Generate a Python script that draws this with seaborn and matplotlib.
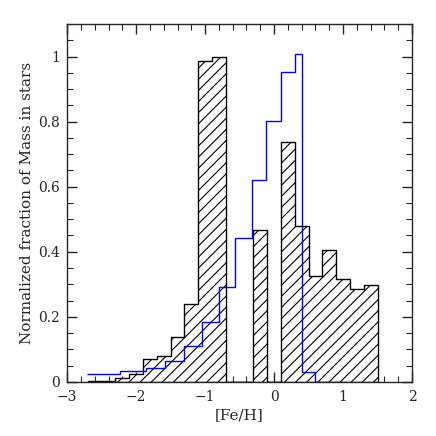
import numpy as np
import matplotlib
matplotlib.use("Agg")
import matplotlib.pyplot as plt
import seaborn as sns
from matplotlib.ticker import MultipleLocator, FuncFormatter

# black hatched histogram ([Fe/H] bins of 0.2)
obs_edges = [-2.7, -2.5, -2.3, -2.1, -1.9, -1.7, -1.5, -1.3, -1.1, -0.9, -0.7,
             -0.5, -0.3, -0.1, 0.1, 0.3, 0.5, 0.7, 0.9, 1.1, 1.3, 1.5]
obs_heights = [0.002, 0.004, 0.011, 0.025, 0.07, 0.08, 0.138, 0.241, 0.986, 1.0,
               0.0, 0.0, 0.468, 0.0, 0.736, 0.48, 0.327, 0.404, 0.317, 0.285, 0.298]

# blue model distribution (step line)
mod_edges = [-2.71, -2.23, -1.855, -1.575, -1.31, -1.043, -0.80, -0.565,
             -0.323, -0.116, 0.097, 0.304, 0.41, 0.594, 1.05]
mod_heights = [0.024, 0.034, 0.044, 0.063, 0.11, 0.183, 0.293, 0.443,
               0.62, 0.803, 0.951, 1.009, 0.032, 0.0]

sns.set_style("ticks")
plt.rcParams["font.family"] = ["DejaVu Serif"]
plt.rcParams["hatch.color"] = "black"
plt.rcParams["hatch.linewidth"] = 0.8

fig = plt.figure(figsize=(4.36, 4.36), dpi=100)
ax = fig.add_axes([0.154, 0.124, 0.791, 0.821])

centers = [(a + b) / 2 for a, b in zip(obs_edges[:-1], obs_edges[1:])]
sns.histplot(x=centers, weights=obs_heights, bins=obs_edges, element="step",
             fill=True, color="white", alpha=1, edgecolor="black", hatch="///",
             linewidth=1.0, ax=ax)

ax.stairs(mod_heights, mod_edges, color="blue", linewidth=1.0, baseline=None)

ax.set_xlim(-3, 2)
ax.set_ylim(0, 1.1)
ax.xaxis.set_major_locator(MultipleLocator(1))
ax.xaxis.set_minor_locator(MultipleLocator(0.2))
ax.yaxis.set_major_locator(MultipleLocator(0.2))
ax.yaxis.set_minor_locator(MultipleLocator(0.05))
ax.yaxis.set_major_formatter(FuncFormatter(lambda v, p: f"{v:g}"))
ax.xaxis.set_major_formatter(FuncFormatter(lambda v, p: f"{v:g}".replace("-", "\u2212")))
ax.tick_params(which="both", direction="in", top=True, right=True, labelsize=10)
ax.tick_params(which="major", length=7, width=1)
ax.tick_params(which="minor", length=4, width=0.8)
ax.tick_params(axis="x", which="major", pad=6)
ax.tick_params(axis="y", which="major", pad=5)
for s in ax.spines.values():
    s.set_linewidth(1.0)

ax.set_xlabel("[Fe/H]", fontsize=11, labelpad=3)
ax.set_ylabel("Normalized fraction of Mass in stars", fontsize=11, labelpad=3)

fig.savefig("out.png", dpi=100)
